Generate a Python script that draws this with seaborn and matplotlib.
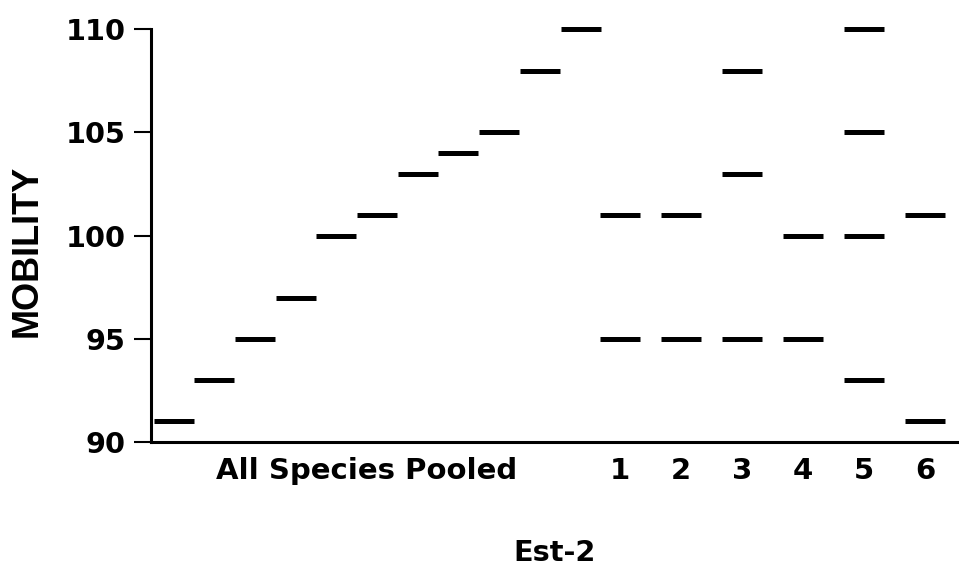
import matplotlib
matplotlib.use("Agg")
import matplotlib.pyplot as plt
import seaborn as sns
import pandas as pd

# ---- data ----
pooled_mobility = [91, 93, 95, 97, 100, 101, 103, 104, 105, 108, 110]
lane_names = ["1", "2", "3", "4", "5", "6"]
lane_1 = [95, 101]
lane_2 = [95, 101]
lane_3 = [95, 103, 108]
lane_4 = [95, 100]
lane_5 = [93, 100, 105, 110]
lane_6 = [91, 101]
y_ticks = [90, 95, 100, 105, 110]
pooled_label = "All Species Pooled"

sns.set_theme(style="ticks")
plt.rcParams["font.family"] = ["DejaVu Sans"]
plt.rcParams["font.weight"] = "bold"

DPI = 100
fig = plt.figure(figsize=(9.59, 5.70), dpi=DPI)
ax = fig.add_axes([151 / 959, 128 / 570, 808 / 959, (442 - 29.3) / 570])

# layout: pooled slots at 0..10, lanes spaced 1.5 slots apart after them
lanes = [lane_1, lane_2, lane_3, lane_4, lane_5, lane_6]
lane_start, lane_step = 10.97, 1.5
rows = []
for i, v in enumerate(pooled_mobility):
    rows.append({"pos": float(i), "mobility": v})
lane_pos = []
for k, lane in enumerate(lanes):
    p = lane_start + lane_step * k
    lane_pos.append(p)
    for v in lane:
        rows.append({"pos": p, "mobility": v})
df = pd.DataFrame(rows)

slot_px = 40.7
band_len_pt = 39.5 * 72 / DPI
sns.scatterplot(data=df, x="pos", y="mobility", marker="_", s=band_len_pt ** 2,
                linewidth=5 * 72 / DPI, color="black", ax=ax, clip_on=False,
                legend=False)

ax.set_xlim(-0.553, -0.553 + 808 / slot_px)
ax.set_ylim(90, 110)

ax.set_yticks(y_ticks)
ax.set_yticklabels([str(t) for t in y_ticks], fontsize=20.7, fontweight="bold")
ax.tick_params(axis="y", length=12.5, width=1.5, pad=6, color="black",
               labelcolor="black")

pooled_center = 4.75
ax.set_xticks([pooled_center] + lane_pos)
ax.set_xticklabels([pooled_label] + lane_names, fontsize=21, fontweight="bold")
ax.tick_params(axis="x", length=0, pad=11, labelcolor="black")

for side in ["top", "right"]:
    ax.spines[side].set_visible(False)
for side in ["left", "bottom"]:
    ax.spines[side].set_linewidth(2.2)
    ax.spines[side].set_color("black")

ax.set_ylabel("MOBILITY", fontsize=26, fontweight="bold",
              family=["Liberation Sans", "DejaVu Sans"], va="center", color="black")
ax.yaxis.set_label_coords((27 - 151) / 808, 1 - (251 - 29.3) / 412.7)
ax.set_xlabel("Est-2", fontsize=20.7, fontweight="bold", va="center", color="black")
ax.xaxis.set_label_coords((555 - 151) / 808, -(553 - 442) / 412.7)

fig.savefig("out.png", dpi=DPI, facecolor="white")
